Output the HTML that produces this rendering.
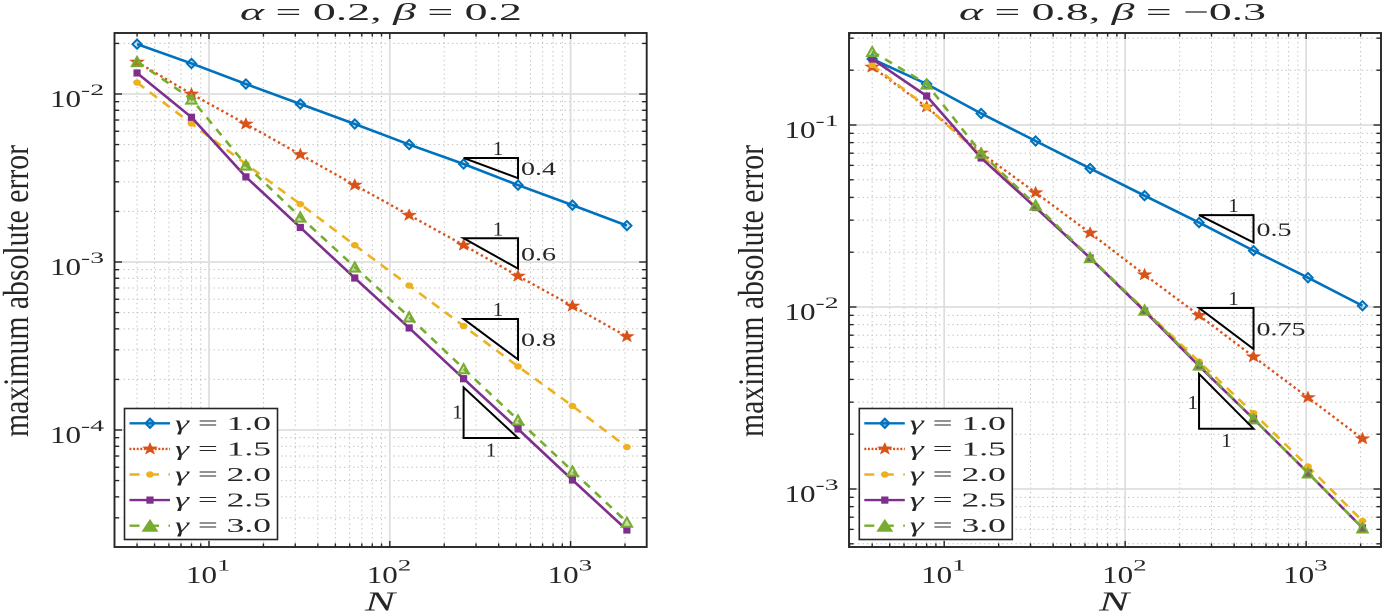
<!DOCTYPE html>
<html>
<head>
<meta charset="utf-8">
<style>
html,body{margin:0;padding:0;background:#fff;width:1383px;height:612px;overflow:hidden}
svg{display:block}
text{font-family:"Liberation Serif","DejaVu Serif",serif;fill:#262626}
</style>
</head>
<body>
<svg id="figure" xmlns="http://www.w3.org/2000/svg" width="1383" height="612" viewBox="0 0 1383 612"></svg>
<script>
// ---- chart data ----
const categoriesN = [4, 8, 16, 32, 64, 128, 256, 512, 1024, 2048];
const gammaLabels = ['1.0', '1.5', '2.0', '2.5', '3.0'];

const leftGamma10 = [0.0198, 0.0152, 0.01147, 0.00872, 0.00663, 0.0050, 0.00383, 0.00287, 0.00218, 0.001647];
const leftGamma15 = [0.0155, 0.0100, 0.00663, 0.00436, 0.00287, 0.0019, 0.00126, 0.000825, 0.000547, 0.00036];
const leftGamma20 = [0.0117, 0.00667, 0.00383, 0.00221, 0.00126, 0.000724, 0.000416, 0.000239, 0.000139, 0.0000792];
const leftGamma25 = [0.01334, 0.00727, 0.00321, 0.001605, 0.000803, 0.000405, 0.000202, 0.0001014, 0.0000504, 0.0000254];
const leftGamma30 = [0.0156, 0.00934, 0.00378, 0.001853, 0.000934, 0.000471, 0.000232, 0.0001148, 0.000057, 0.0000283];

const rightGamma10 = [0.2305, 0.168, 0.1157, 0.0817, 0.0577, 0.0409, 0.0291, 0.0204, 0.01449, 0.01016];
const rightGamma15 = [0.2083, 0.1256, 0.0702, 0.0425, 0.0255, 0.01505, 0.0090, 0.00533, 0.00318, 0.00189];
const rightGamma20 = [0.2137, 0.1256, 0.0684, 0.0354, 0.0186, 0.00963, 0.00501, 0.00261, 0.00133, 0.000667];
const rightGamma25 = [0.2305, 0.1443, 0.0659, 0.0352, 0.0186, 0.0095, 0.00474, 0.00243, 0.001225, 0.000611];
const rightGamma30 = [0.2534, 0.168, 0.0702, 0.0363, 0.0187, 0.00963, 0.0048, 0.00243, 0.001225, 0.000611];

const xTickExponents = [1, 2, 3];
const leftYTickExponents = [-2, -3, -4];
const rightYTickExponents = [-1, -2, -3];

const leftSlopeRates = [0.4, 0.6, 0.8];
const leftSlopeAnchors = [0.00416, 0.001384, 0.000458];
const leftUnitSlopeAnchor = 0.0000896;
const rightSlopeRates = [0.5, 0.75];
const rightSlopeAnchors = [0.032, 0.00988];
const rightUnitSlopeAnchor = 0.002144;
const slopeStartN = 256;
const slopeEndN = 512;

const seriesColors = ['#0072BD', '#D95319', '#EDB120', '#7E2F8E', '#77AC30'];
const seriesDashes = ['', '2.4 3', '9 7', '', '8 7'];
const seriesMarkers = ['diamond', 'star', 'circle', 'square', 'triangle'];
const INK = '#262626';
const SVGNS = 'http://www.w3.org/2000/svg';
const figure = document.getElementById('figure');

function make(tag, parent, attrs) {
  const node = document.createElementNS(SVGNS, tag);
  for (const key in attrs) node.setAttribute(key, attrs[key]);
  parent.appendChild(node);
  return node;
}

function stretchText(parent, str, x, y, size, width, extra) {
  const attrs = Object.assign({x: x, y: y, 'font-size': size, textLength: width, lengthAdjust: 'spacingAndGlyphs'}, extra || {});
  const node = make('text', parent, attrs);
  node.textContent = str;
  return node;
}

function markerShape(parent, kind, cx, cy, color, solid) {
  let node;
  if (kind === 'diamond') {
    const r = 4.6;
    node = make('polygon', parent, {points: [cx-r,cy, cx,cy-r, cx+r,cy, cx,cy+r].join(','), fill: color, 'fill-opacity': solid ? 0.55 : 0.15, stroke: color, 'stroke-width': 2});
  } else if (kind === 'star') {
    const pts = [];
    for (let i = 0; i < 10; i++) {
      const r = i % 2 ? 2.6 : 6.4;
      const a = -Math.PI / 2 + i * Math.PI / 5;
      pts.push((cx + r * Math.cos(a) * 1.2).toFixed(2) + ',' + (cy + r * Math.sin(a)).toFixed(2));
    }
    node = make('polygon', parent, {points: pts.join(' '), fill: color, stroke: color, 'stroke-width': 0.5});
  } else if (kind === 'circle') {
    node = make('ellipse', parent, {cx: cx, cy: cy, rx: 3.9, ry: 3.2, fill: color});
  } else if (kind === 'square') {
    node = make('rect', parent, {x: cx-3.2, y: cy-3.2, width: 6.4, height: 6.4, fill: color, stroke: color, 'stroke-width': 0.8});
  } else {
    const w = solid ? 6.6 : 5.2;
    const h = solid ? 5 : 4.6;
    node = make('polygon', parent, {points: [cx-w,cy+h, cx,cy-h, cx+w,cy+h].join(','), fill: color, 'fill-opacity': solid ? 1 : 0.4, stroke: color, 'stroke-width': 2});
  }
  return node;
}

function drawPanel(cfg) {
  const panel = make('g', figure, {});
  
  

  const xPos = n => cfg.x10 + (Math.log10(n) - 1) * cfg.xDecade;
  const yPos = v => cfg.yRef + (cfg.yRefExp - Math.log10(v)) * cfg.yDecade;

  const plotBg = make('rect', panel, {x: cfg.left, y: cfg.top, width: cfg.right-cfg.left, height: cfg.bottom-cfg.top, fill: '#fff'});
  
  

  // Gather tick positions
  const xMinor = [], xMajor = [], yMinor = [], yMajor = [];
  for (let e = -1; e < 5; e++) {
    for (let m = 1; m < 10; m++) {
      const px = xPos(m * Math.pow(10, e));
      if (px > cfg.left + 0.5 && px < cfg.right - 0.5) (m === 1 ? xMajor : xMinor).push(px);
    }
  }
  for (let e = -7; e < 2; e++) {
    for (let m = 1; m < 10; m++) {
      const py = yPos(m * Math.pow(10, e));
      if (py > cfg.top + 0.5 && py < cfg.bottom - 0.5) (m === 1 ? yMajor : yMinor).push(py);
    }
  }

  // Grid
  const minorGrid = make('g', panel, {stroke: '#bdbdbd', 'stroke-width': 1, 'stroke-dasharray': '1.3 3.2', fill: 'none'});
  
  
  xMinor.forEach(px => make('line', minorGrid, {x1: px, x2: px, y1: cfg.top, y2: cfg.bottom}));
  yMinor.forEach(py => make('line', minorGrid, {x1: cfg.left, x2: cfg.right, y1: py, y2: py}));

  const majorGrid = make('g', panel, {stroke: '#dedede', 'stroke-width': 1.8, fill: 'none'});
  
  
  xMajor.forEach(px => make('line', majorGrid, {x1: px, x2: px, y1: cfg.top, y2: cfg.bottom}));
  yMajor.forEach(py => make('line', majorGrid, {x1: cfg.left, x2: cfg.right, y1: py, y2: py}));

  // Series
  cfg.series.forEach((values, i) => {
    const g = make('g', panel, {});
    
    
    const pts = values.map((v, k) => xPos(categoriesN[k]).toFixed(2) + ',' + yPos(v).toFixed(2)).join(' ');
    const lineAttrs = {points: pts, fill: 'none', stroke: seriesColors[i], 'stroke-width': i === 1 ? 2.4 : 2.6};
    if (seriesDashes[i]) lineAttrs['stroke-dasharray'] = seriesDashes[i];
    const line = make('polyline', g, lineAttrs);
    
    
    values.forEach((v, k) => {
      const mark = markerShape(g, seriesMarkers[i], xPos(categoriesN[k]), yPos(v), seriesColors[i], false);
      
      
    });
  });

  // Slope triangles
  const xa = xPos(slopeStartN), xb = xPos(slopeEndN), xMid = (xa + xb) / 2;
  cfg.slopeRates.forEach((rate, i) => {
    const g = make('g', panel, {});
    
    
    const ya = yPos(cfg.slopeAnchors[i]);
    const yb = yPos(cfg.slopeAnchors[i] * Math.pow(slopeStartN / slopeEndN, rate));
    make('polygon', g, {points: [xa,ya, xb,ya, xb,yb].join(','), fill: 'none', stroke: '#000', 'stroke-width': 2});
    const run = stretchText(g, '1', xMid + 2, ya - 3, 20, 10.5, {fill: '#111'});
    
    
    const label = String(rate);
    const rise = stretchText(g, label, xb + 3, (ya + yb) / 2 + 7, 19, label.length > 3 ? 49 : 35, {fill: '#111'});
    
    
  });
  const unit = make('g', panel, {});
  
  
  const yu = yPos(cfg.unitAnchor);
  const yt = yPos(cfg.unitAnchor * (slopeEndN / slopeStartN));
  make('polygon', unit, {points: [xa,yt, xa,yu, xb,yu].join(','), fill: 'none', stroke: '#000', 'stroke-width': 2});
  const unitRise = stretchText(unit, '1', xa - 11.5, yu - 19.7, 20, 10.5, {fill: '#111'});
  
  
  const unitRun = stretchText(unit, '1', xMid - 5, yu + 18.5, 20, 10.5, {fill: '#111'});
  
  

  // Ticks and frame
  const ticks = make('g', panel, {stroke: INK, 'stroke-width': 1.4, fill: 'none'});
  
  
  const tickSet = (list, len, vertical) => list.forEach(p => {
    if (vertical) {
      make('line', ticks, {x1: p, x2: p, y1: cfg.bottom, y2: cfg.bottom - len});
      make('line', ticks, {x1: p, x2: p, y1: cfg.top, y2: cfg.top + len});
    } else {
      make('line', ticks, {x1: cfg.left, x2: cfg.left + len, y1: p, y2: p});
      make('line', ticks, {x1: cfg.right, x2: cfg.right - len, y1: p, y2: p});
    }
  });
  tickSet(xMajor, 6, true);
  tickSet(xMinor, 3.6, true);
  tickSet(yMajor, 7.5, false);
  tickSet(yMinor, 4.5, false);

  const frame = make('rect', panel, {x: cfg.left, y: cfg.top, width: cfg.right-cfg.left, height: cfg.bottom-cfg.top, fill: 'none', stroke: INK, 'stroke-width': 1.9});
  
  

  // Tick labels
  xTickExponents.forEach(e => {
    const px = xPos(Math.pow(10, e));
    const g = make('g', panel, {});
    
    
    stretchText(g, '10', px - 23, 583, 24, 31);
    stretchText(g, String(e), px + 8, 570.5, 16, 13.5);
  });
  cfg.yTicks.forEach(e => {
    const py = yPos(Math.pow(10, e));
    const g = make('g', panel, {});
    
    
    stretchText(g, '10', cfg.left - 64.5, py + 13, 24, 31);
    stretchText(g, String(e), cfg.left - 33.5, py + 1, 16, 23);
  });

  // Axis labels and title
  const xLabel = stretchText(panel, 'N', cfg.xLabelX, 610.5, 27, 30, {'font-style': 'italic'});
  
  

  const yLabel = make('text', panel, {
    transform: 'translate(' + cfg.yLabelX + ',437) rotate(-90)',
    x: 0, y: 0, 'font-size': 36, textLength: 292, lengthAdjust: 'spacingAndGlyphs'
  });
  yLabel.textContent = 'maximum absolute error';
  
  

  const title = make('text', panel, {x: cfg.titleX, y: 20, 'font-size': 24, textLength: cfg.titleW, lengthAdjust: 'spacingAndGlyphs'});
  
  
  const sa = make('tspan', title, {'font-style': 'italic'});
  sa.textContent = 'α';
  const sb = make('tspan', title, {});
  sb.textContent = ' = ' + cfg.alpha + ', ';
  const sc = make('tspan', title, {'font-style': 'italic'});
  sc.textContent = 'β';
  const sd = make('tspan', title, {});
  sd.textContent = ' = ' + cfg.beta;

  // Legend
  const legend = make('g', panel, {});
  
  
  make('rect', legend, {x: cfg.legendX, y: 408.5, width: 153, height: 131, fill: '#fff', stroke: INK, 'stroke-width': 1.6});
  gammaLabels.forEach((lab, i) => {
    const rowY = 423.3 + i * 25.6;
    const row = make('g', legend, {});
    
    
    const attrs = {x1: cfg.legendX + 5, x2: cfg.legendX + 45.5, y1: rowY, y2: rowY, stroke: seriesColors[i], 'stroke-width': 2.4};
    if (seriesDashes[i]) attrs['stroke-dasharray'] = i === 1 ? '2 1.6' : '10 9.5';
    make('line', row, attrs);
    markerShape(row, seriesMarkers[i], cfg.legendX + 25.5, rowY, seriesColors[i], true);
    const t = make('text', row, {x: cfg.legendX + 50.5, y: rowY + 6.5, 'font-size': 20, textLength: 96, lengthAdjust: 'spacingAndGlyphs'});
    const g1 = make('tspan', t, {'font-style': 'italic'});
    g1.textContent = 'γ';
    const g2 = make('tspan', t, {});
    g2.textContent = ' = ' + lab;
  });
}

drawPanel({
  name: 'left-panel', left: 114.5, right: 646.7, top: 33, bottom: 547,
  x10: 209, xDecade: 180.8, yRef: 94, yRefExp: -2, yDecade: 168,
  series: [leftGamma10, leftGamma15, leftGamma20, leftGamma25, leftGamma30],
  yTicks: leftYTickExponents, slopeRates: leftSlopeRates, slopeAnchors: leftSlopeAnchors, unitAnchor: leftUnitSlopeAnchor,
  xLabelX: 365, yLabelX: 28, titleX: 240, titleW: 282, alpha: '0.2', beta: '0.2', legendX: 124.5
});
drawPanel({
  name: 'right-panel', left: 849, right: 1381, top: 33, bottom: 547,
  x10: 944.2, xDecade: 180.97, yRef: 125, yRefExp: -1, yDecade: 182,
  series: [rightGamma10, rightGamma15, rightGamma20, rightGamma25, rightGamma30],
  yTicks: rightYTickExponents, slopeRates: rightSlopeRates, slopeAnchors: rightSlopeAnchors, unitAnchor: rightUnitSlopeAnchor,
  xLabelX: 1099, yLabelX: 763, titleX: 959, titleW: 307, alpha: '0.8', beta: '−0.3', legendX: 859.3
});
</script>
</body>
</html>
